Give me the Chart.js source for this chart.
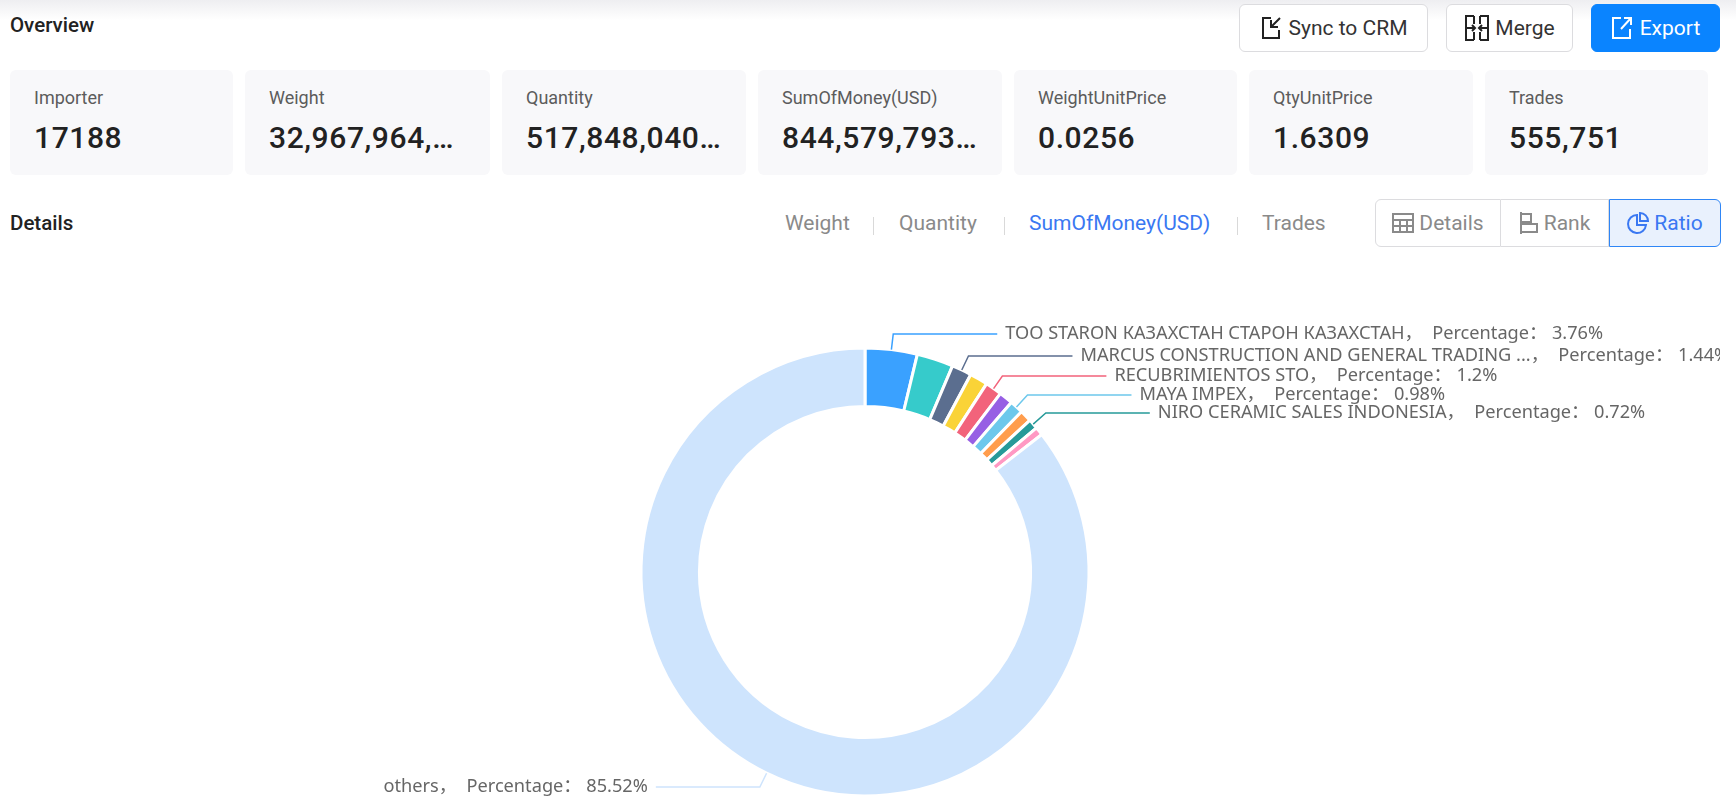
<!DOCTYPE html>
<html>
<head>
<meta charset="utf-8">
<title>Overview</title>
<script src="https://cdn.jsdelivr.net/npm/chart.js@4/dist/chart.umd.min.js"></script>
<style>
    html, body { margin: 0; padding: 0; background: #fff; overflow: hidden; }
    body { width: 1736px; height: 806px; position: relative; font-family: Roboto, sans-serif; color: #222; }
    .top-shade { position: absolute; left: 0; top: 0; width: 1736px; height: 20px; background: linear-gradient(#eeeef1, #fff); }
    .abs { position: absolute; white-space: nowrap; }
    .heading { font-size: 20.5px; font-weight: 500; color: #222; line-height: 24px; }
    .card { position: absolute; top: 70px; height: 105px; background: #f8f8fa; border-radius: 6px; }
    .card .name { position: absolute; left: 24px; top: 16px; font-size: 18px; line-height: 24px; color: #5c5c5c; white-space: nowrap; }
    .card .value { position: absolute; left: 24px; top: 49px; font-size: 30px; line-height: 38px; font-weight: 500; color: #222; white-space: nowrap; letter-spacing: 0.6px; }
    .btn { position: absolute; top: 4px; height: 46px; border: 1px solid #dcdcdf; border-radius: 6px; font-size: 21px; color: #333; background: #fff; display: flex; align-items: center; justify-content: center; gap: 5px; }
    .btn.primary { background: #0a84ff; border-color: #0a84ff; color: #fff; gap: 7px; }
    .tab { position: absolute; top: 210px; font-size: 21px; line-height: 26px; color: #8a8a8a; white-space: nowrap; }
    .tab.active { color: #3a78f2; }
    .sep { position: absolute; top: 217px; width: 1px; height: 18px; background: #d9d9d9; }
    .toggle { position: absolute; top: 199px; height: 46px; border: 1px solid #dcdcdf; background: #fff; font-size: 21px; color: #8a8a8a; display: flex; align-items: center; justify-content: center; gap: 5px; box-sizing: content-box; }
    .toggle.active { background: #e9f1fd; border-color: #2f86f6; color: #3a78f2; }
    #chart-wrap { position: absolute; left: 10px; top: 250px; width: 1710px; height: 556px; }
</style>
</head>
<body>
<div class="top-shade"></div>
<div class="abs heading" style="left:10px;top:13px">Overview</div>
<div class="abs heading" style="left:10px;top:211px">Details</div>

<div class="btn" style="left:1239px;width:187px">
    <svg width="24" height="26" viewBox="0 0 24 26" fill="none" stroke="#222" stroke-width="2"><path d="M11 3H3v20h16v-8"/><path d="M20 3l-9 9M11 5v7h7"/></svg>Sync to CRM
</div>
<div class="btn" style="left:1446px;width:125px">
    <svg width="26" height="28" viewBox="0 0 26 28" fill="none" stroke="#222" stroke-width="2"><path d="M10 2H2v24h8M16 2h8v24h-8M10 2v8M16 2v8M10 18v8M16 18v8M2 14h8M16 14h8M8 11l3 3-3 3M18 11l-3 3 3 3"/></svg>Merge
</div>
<div class="btn primary" style="left:1591px;width:127px">
    <svg width="22" height="26" viewBox="0 0 22 26" fill="none" stroke="#fff" stroke-width="2"><path d="M10 3H2v20h17v-9"/><path d="M10 14l10-11M13 3h7v7"/></svg>Export
</div>

<div id="cards"></div>
<div id="tabs"></div>

<div class="toggle" style="left:1375px;width:124px;border-radius:6px 0 0 6px">
    <svg width="22" height="20" viewBox="0 0 22 20" fill="none" stroke="#8a8a8a" stroke-width="2"><path d="M1 1h20v18H1zM1 7h20M1 13h20M8 7v12M15 7v12"/></svg>Details
</div>
<div class="toggle" style="left:1501px;width:107px;border-left:0">
    <svg width="20" height="24" viewBox="0 0 20 24" fill="none" stroke="#8a8a8a" stroke-width="2"><path d="M2 1v22M2 3h10v8H2M2 13h16v8H2"/></svg>Rank
</div>
<div class="toggle active" style="left:1609px;width:110px;border-radius:0 6px 6px 0">
    <svg width="22" height="24" viewBox="0 0 22 24" fill="none" stroke="#3a78f2" stroke-width="2"><path d="M10 4a9 9 0 1 0 9 10h-9z"/><path d="M13 2a8 8 0 0 1 8 8h-8z"/></svg>Ratio
</div>

<div id="chart-wrap"><canvas id="ratioChart"></canvas></div>

<script>
// Overview cards
const cardNames = ['Importer', 'Weight', 'Quantity', 'SumOfMoney(USD)', 'WeightUnitPrice', 'QtyUnitPrice', 'Trades'];
const cardValues = ['17188', '32,967,964,…', '517,848,040…', '844,579,793…', '0.0256', '1.6309', '555,751'];
const cardLefts = [10, 245, 502, 758, 1014, 1249, 1485];
const cardWidths = [223, 245, 244, 244, 223, 224, 223];

// Metric tabs
const tabNames = ['Weight', 'Quantity', 'SumOfMoney(USD)', 'Trades'];
const tabLefts = [785, 899, 1029, 1262];
const tabSeps = [873, 1004, 1237];
const activeTab = 2;

// Share of SumOfMoney(USD), unlabeled slices are estimated from the picture
const sliceNames = [
    'TOO STARON КАЗАХСТАН СТАРОН КАЗАХСТАН', null,
    'MARCUS CONSTRUCTION AND GENERAL TRADING ...', null,
    'RECUBRIMIENTOS STO', null,
    'MAYA IMPEX', null,
    'NIRO CERAMIC SALES INDONESIA', null,
    'others'
];
const sliceShares = [3.76, 2.63, 1.44, 1.3, 1.2, 1.0, 0.98, 0.85, 0.72, 0.6, 85.52];
const sliceColors = ['#3AA1FF', '#36CBCB', '#5B6E8F', '#FAD337', '#F2637B', '#975FE4', '#6DC8EC', '#FF9D4D', '#269A99', '#FF99C3', '#CEE4FD'];

// y of each leader line's horizontal run, inside the canvas
const leaderRowY = { 0: 84, 2: 106, 4: 126, 6: 145, 8: 163, 10: 537 };
const LEADER_RUN = 104;
const LEADER_GAP = 8;

const cardsEl = document.getElementById('cards');
cardNames.forEach((name, i) => {
    const card = document.createElement('div');
    card.className = 'card';
    card.style.left = cardLefts[i] + 'px';
    card.style.width = cardWidths[i] + 'px';
    card.innerHTML = `<div class="name">${name}</div><div class="value">${cardValues[i]}</div>`;
    cardsEl.appendChild(card);
});

const tabsEl = document.getElementById('tabs');
tabNames.forEach((name, i) => {
    const tab = document.createElement('div');
    tab.className = 'tab' + (i === activeTab ? ' active' : '');
    tab.style.left = tabLefts[i] + 'px';
    tab.textContent = name;
    tabsEl.appendChild(tab);
});
tabSeps.forEach(x => {
    const sep = document.createElement('div');
    sep.className = 'sep';
    sep.style.left = x + 'px';
    tabsEl.appendChild(sep);
});

// Leader lines with labels, echarts style
const leaderLabels = {
    id: 'leaderLabels',
    afterDatasetsDraw(chart) {
        const ctx = chart.ctx;
        const arcs = chart.getDatasetMeta(0).data;
        ctx.save();
        ctx.font = '18.2px "Noto Sans", "Noto Sans CJK SC", sans-serif';
        ctx.textBaseline = 'middle';
        arcs.forEach((arc, i) => {
            if (!sliceNames[i]) return;
            const { x, y, startAngle, endAngle, outerRadius } = arc.getProps(['x', 'y', 'startAngle', 'endAngle', 'outerRadius'], true);
            const mid = (startAngle + endAngle) / 2;
            const startX = x + Math.cos(mid) * outerRadius;
            const startY = y + Math.sin(mid) * outerRadius;
            const rowY = leaderRowY[i];
            const elbowX = x + (rowY - y) / Math.tan(mid);
            const right = Math.cos(mid) >= 0;
            const endX = elbowX + (right ? LEADER_RUN : -LEADER_RUN);

            ctx.strokeStyle = sliceColors[i];
            ctx.lineWidth = 1.5;
            ctx.beginPath();
            ctx.moveTo(startX, startY);
            ctx.lineTo(elbowX, rowY);
            ctx.lineTo(endX, rowY);
            ctx.stroke();

            ctx.fillStyle = '#666';
            ctx.textAlign = right ? 'left' : 'right';
            const text = `${sliceNames[i]}，  Percentage： ${sliceShares[i]}%`;
            ctx.fillText(text, endX + (right ? LEADER_GAP : -LEADER_GAP), rowY);
        });
        ctx.restore();
    }
};

new Chart(document.getElementById('ratioChart'), {
    type: 'doughnut',
    data: {
        labels: sliceNames.map(n => n || ''),
        datasets: [{
            data: sliceShares,
            backgroundColor: sliceColors,
            borderColor: '#fff',
            borderWidth: 3
        }]
    },
    options: {
        responsive: true,
        maintainAspectRatio: false,
        animation: false,
        radius: 224,
        cutout: 163,
        layout: { padding: { top: 100, bottom: 12 } },
        plugins: {
            legend: { display: false },
            tooltip: { enabled: false }
        }
    },
    plugins: [leaderLabels]
});
</script>
</body>
</html>
